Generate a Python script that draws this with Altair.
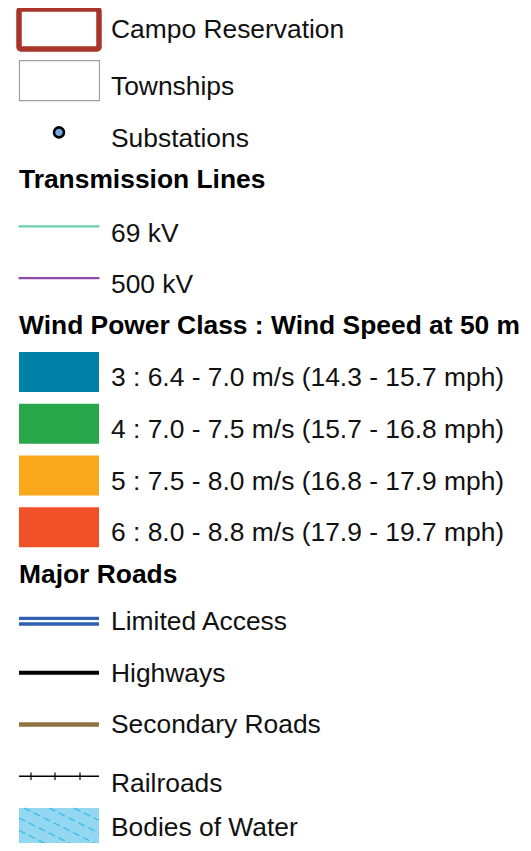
import altair as alt
import pandas as pd

# ---------------- data ----------------
symbol_labels = ["Campo Reservation", "Townships", "Substations"]
symbol_kinds = ["campo", "township", "substation"]
header_labels = ["Transmission Lines", "Wind Power Class : Wind Speed at 50 m", "Major Roads"]
line_labels = ["69 kV", "500 kV"]
line_colors = ["#6DCFB0", "#8E4CA8"]
wind_labels = [
    "3 : 6.4 - 7.0 m/s (14.3 - 15.7 mph)",
    "4 : 7.0 - 7.5 m/s (15.7 - 16.8 mph)",
    "5 : 7.5 - 8.0 m/s (16.8 - 17.9 mph)",
    "6 : 8.0 - 8.8 m/s (17.9 - 19.7 mph)",
]
wind_colors = ["#0180A8", "#28A84A", "#F9A81C", "#F15128"]
road_labels = ["Limited Access", "Highways", "Secondary Roads", "Railroads"]
road_kinds = ["road_double", "road_solid", "road_solid", "road_rail"]
road_colors = ["#3160B0", "#000000", "#8C733F", "#000000"]
water_labels = ["Bodies of Water"]

# ---------------- layout / style (not data) ----------------
W, H = 515, 835
UNIT = 51.7            # px per legend slot
HDR_STEP = 0.909       # spacing next to a section header, in slots
TOP = 21.0             # px from top to first slot centre
Y0 = -TOP / UNIT
Y1 = Y0 + H / UNIT
SYM_X0, SYM_X1 = 11, 91
TEXT_X = 103
HEAD_X = 11
FONT = "Liberation Sans"
FS = 26.4
FS_HEAD = 26.4
BASE_FIX = 0.8         # vega 'middle' baseline vs. cap centre
TEXT_SHIFT = {"campo": 0.5, "township": 5.5, "substation": 6.0, "tline": 6.5, "wind": 5.3,
              "road_double": 0.3, "road_solid": 0.1, "road_rail": 6.5, "water": -0.5, "header": 0}
ROAD_WIDTH = {"Highways": 4, "Secondary Roads": 4.5, "Railroads": 1.5}

def px(v):
    return v / UNIT

# build legend rows
rows = []
for l, k in zip(symbol_labels, symbol_kinds):
    rows.append(dict(label=l, kind=k, color=""))
rows.append(dict(label=header_labels[0], kind="header", color=""))
for l, c in zip(line_labels, line_colors):
    rows.append(dict(label=l, kind="tline", color=c))
rows.append(dict(label=header_labels[1], kind="header", color=""))
for l, c in zip(wind_labels, wind_colors):
    rows.append(dict(label=l, kind="wind", color=c))
rows.append(dict(label=header_labels[2], kind="header", color=""))
for l, k, c in zip(road_labels, road_kinds, road_colors):
    rows.append(dict(label=l, kind=k, color=c))
for l in water_labels:
    rows.append(dict(label=l, kind="water", color="#93D7F0"))
df = pd.DataFrame(rows)

slots, s, prev = [], 0.0, None
for k in df.kind:
    if prev is not None:
        s += HDR_STEP if (k == "header" or prev == "header") else 1.0
    slots.append(s)
    prev = k
df["slot"] = slots
df["ty"] = [sl + px(TEXT_SHIFT[k] + BASE_FIX) for sl, k in zip(df.slot, df.kind)]

ys = alt.Scale(domain=[Y0, Y1], reverse=True, nice=False, zero=False)

def Y(field="slot"):
    return alt.Y(f"{field}:Q", scale=ys, axis=None)

def Y2(field):
    return alt.Y2(f"{field}:Q")

def box(d, half):
    d = d.copy()
    d["top"] = d.slot - px(half)
    d["bot"] = d.slot + px(half)
    return d

layers = []

# text labels
txt = df[df.kind != "header"]
layers.append(
    alt.Chart(txt).mark_text(align="left", baseline="middle", fontSize=FS, font=FONT, color="#111111")
    .encode(x=alt.value(TEXT_X), y=Y("ty"), text="label:N")
)
hd = df[df.kind == "header"]
layers.append(
    alt.Chart(hd).mark_text(align="left", baseline="middle", fontSize=FS_HEAD, font=FONT, fontWeight="bold", color="#000000")
    .encode(x=alt.value(HEAD_X), y=Y("ty"), text="label:N")
)

# Campo Reservation box
campo = box(df[df.kind == "campo"], 20)
layers.append(
    alt.Chart(campo).mark_rect(fill="white", stroke="#A93427", strokeWidth=5.5, cornerRadius=2)
    .encode(x=alt.value(SYM_X0), x2=alt.value(SYM_X1), y=Y("top"), y2=Y2("bot"))
)
# Townships box
town = box(df[df.kind == "township"], 20)
layers.append(
    alt.Chart(town).mark_rect(fill="white", stroke="#A0A0A0", strokeWidth=1.2)
    .encode(x=alt.value(SYM_X0 + 0.5), x2=alt.value(SYM_X1 + 0.5), y=Y("top"), y2=Y2("bot"))
)
# Substations
sub = df[df.kind == "substation"]
layers.append(
    alt.Chart(sub).mark_point(shape="circle", filled=True, fill="#6FA8DC", stroke="#000000", strokeWidth=2.6, size=100, opacity=1)
    .encode(x=alt.value(51), y=Y())
)

# transmission lines
tl = df[df.kind == "tline"]
layers.append(
    alt.Chart(tl).mark_rule(strokeWidth=2.3)
    .encode(x=alt.value(SYM_X0 - 0.5), x2=alt.value(SYM_X1 + 0.5), y=Y(), color=alt.Color("color:N", scale=None))
)

# wind swatches
wd = box(df[df.kind == "wind"], 20)
layers.append(
    alt.Chart(wd).mark_rect()
    .encode(x=alt.value(SYM_X0), x2=alt.value(SYM_X1), y=Y("top"), y2=Y2("bot"), color=alt.Color("color:N", scale=None))
)

# roads
dbl = df[df.kind == "road_double"]
layers.append(
    alt.Chart(dbl).mark_rule(strokeWidth=9)
    .encode(x=alt.value(SYM_X0), x2=alt.value(SYM_X1), y=Y(), color=alt.Color("color:N", scale=None))
)
layers.append(
    alt.Chart(dbl).mark_rule(strokeWidth=2.4, color="white")
    .encode(x=alt.value(SYM_X0), x2=alt.value(SYM_X1), y=Y())
)
for kind in ["road_solid", "road_rail"]:
    sub_df = df[df.kind == kind]
    for lab in sub_df.label:
        one = sub_df[sub_df.label == lab]
        layers.append(
            alt.Chart(one).mark_rule(strokeWidth=ROAD_WIDTH[lab], color=one.color.iloc[0])
            .encode(x=alt.value(SYM_X0), x2=alt.value(SYM_X1), y=Y())
        )
rail = box(df[df.kind == "road_rail"], 3.7)
for tx in [23, 47, 72]:
    layers.append(
        alt.Chart(rail).mark_rule(strokeWidth=1.2, color="#000000")
        .encode(x=alt.value(tx), y=Y("top"), y2=Y2("bot"))
    )

# water swatch
wt = box(df[df.kind == "water"], 20)
layers.append(
    alt.Chart(wt).mark_rect(color="#93D7F0")
    .encode(x=alt.value(SYM_X0), x2=alt.value(SYM_X1), y=Y("top"), y2=Y2("bot"))
)
# hatch pattern (decorative, clipped to the swatch)
wslot = float(wt.slot.iloc[0])
for c in [-47.5, -35, -22.5, -10, 2.5, 15]:
    xs0 = max(0.0, (-20 - c) / 0.5)
    xs1 = min(80.0, (20 - c) / 0.5)
    if xs1 - xs0 < 2:
        continue
    y_a = wslot + px(c + 0.5 * xs0)
    y_b = wslot + px(c + 0.5 * xs1)
    layers.append(
        alt.Chart(wt).mark_rule(strokeWidth=1.3, color="#38BDEB", strokeDash=[7, 4])
        .encode(x=alt.value(SYM_X0 + xs0), x2=alt.value(SYM_X0 + xs1),
                y=alt.Y(datum=y_a, scale=ys, axis=None), y2=alt.Y2(datum=y_b))
    )

chart = (
    alt.layer(*layers)
    .properties(width=W, height=H, padding=0, autosize=alt.AutoSizeParams(type="none"), background="white")
    .configure_view(stroke=None)
)

chart.save("out.html", embed_options={"renderer": "svg", "actions": False})
